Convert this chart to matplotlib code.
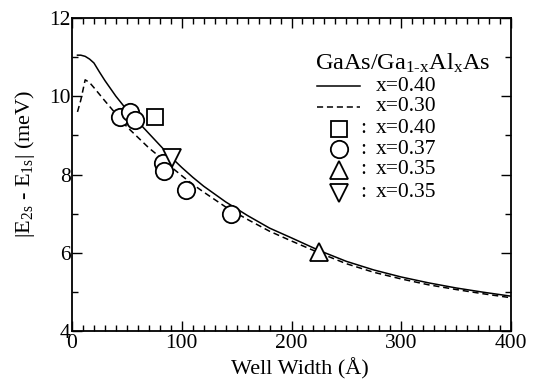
import matplotlib
matplotlib.use('Agg')
from matplotlib import pyplot as plt
from matplotlib.ticker import MultipleLocator

plt.rcParams['font.family'] = ['Liberation Serif', 'DejaVu Serif']
plt.rcParams['mathtext.fontset'] = 'custom'
plt.rcParams['mathtext.rm'] = 'Liberation Serif'
plt.rcParams['mathtext.it'] = 'Liberation Serif:italic'

# theory curves
solid_x = [5, 8, 12, 16, 20, 25, 30, 35, 40, 50, 60, 70, 80, 90, 100, 110, 120, 140, 160,
           180, 200, 225, 250, 275, 300, 325, 350, 375, 400]
solid_y = [11.05, 11.05, 11.02, 10.95, 10.85, 10.62, 10.4, 10.2, 10.0, 9.65, 9.35, 9.05, 8.75,
           8.45, 8.18, 7.93, 7.7, 7.3, 6.95, 6.63, 6.38, 6.06, 5.78, 5.56, 5.38, 5.23, 5.1,
           4.99, 4.89]
dash_x = [5, 8, 12, 16, 20, 30, 40, 50, 60, 70, 80, 90, 100, 110, 120, 140, 160, 180, 200,
          225, 250, 275, 300, 325, 350, 375, 400]
dash_y = [9.6, 9.9, 10.42, 10.35, 10.22, 9.88, 9.55, 9.22, 8.95, 8.68, 8.45, 8.2, 7.97, 7.75,
          7.55, 7.17, 6.85, 6.55, 6.3, 6.0, 5.72, 5.5, 5.33, 5.18, 5.06, 4.95, 4.85]

# experiments
sq_x, sq_y = [76], [9.46]
circ_x = [44, 53, 57, 82.5, 83.5, 104, 144.5]
circ_y = [9.47, 9.6, 9.4, 8.3, 8.08, 7.6, 7.0]
up_x, up_y = [225.5], [6.03]
down_x, down_y = [91.5], [8.42]

legend_title = 'GaAs/Ga$_{\\mathrm{1}\\text{-}\\mathrm{x}}$Al$_{\\mathrm{x}}$As'
line_labels = ['x=0.40', 'x=0.30']
marker_labels = ['x=0.40', 'x=0.37', 'x=0.35', 'x=0.35']

fig = plt.figure(figsize=(5.42, 3.83), dpi=100)
ax = fig.add_axes([72 / 542, 1 - 331 / 383, 439 / 542, 313 / 383])

ax.plot(solid_x, solid_y, color='black', lw=1.1)
ax.plot(dash_x, dash_y, color='black', lw=1.1, dashes=(4, 2.5))

mk = dict(linestyle='none', markerfacecolor='white', markeredgecolor='black',
          markeredgewidth=1.3, zorder=3)
ax.plot(sq_x, sq_y, marker='s', markersize=11, **mk)
ax.plot(circ_x, circ_y, marker='o', markersize=12.5, **mk)
ax.plot(up_x, up_y, marker='^', markersize=13, **mk)
ax.plot(down_x, down_y, marker='v', markersize=13, **mk)

ax.set_xlim(0, 400)
ax.set_ylim(4, 12)
ax.xaxis.set_major_locator(MultipleLocator(100))
ax.xaxis.set_minor_locator(MultipleLocator(10))
ax.yaxis.set_major_locator(MultipleLocator(2))
ax.yaxis.set_minor_locator(MultipleLocator(1))
ax.tick_params(which='both', direction='in', top=True, right=True, labelsize=15.5, width=1.0)
ax.tick_params(which='major', length=7)
ax.tick_params(which='minor', length=4)
ax.tick_params(axis='x', pad=2)
ax.tick_params(axis='y', pad=1)
for s in ax.spines.values():
    s.set_linewidth(1.3)

ax.set_xlabel('Well Width (Å)', fontsize=16)
ax.set_ylabel('|E$_{\\mathrm{2s}}$ - E$_{\\mathrm{1s}}$| (meV)', fontsize=16)
ax.xaxis.set_label_coords(0.52, -0.085)
ax.yaxis.set_label_coords(-0.08, 0.535)

# legend drawn by hand in axes coords
tr = ax.transAxes
ax.text(0.752, 0.856, legend_title, transform=tr, fontsize=17.5, ha='center', va='center')
rows = [0.7815, 0.7166, 0.6454, 0.5805, 0.5144, 0.4412]
ax.plot([0.557, 0.657], [rows[0]] * 2, transform=tr, color='black', lw=1.1)
ax.plot([0.557, 0.657], [rows[1]] * 2, transform=tr, color='black', lw=1.1, dashes=(4, 2.5))
for r, lab in zip(rows[:2], line_labels):
    ax.text(0.6925, r, lab, transform=tr, fontsize=15.5, va='center')
sizes = [11, 12.5, 13, 13]
for r, m, ms, lab in zip(rows[2:], ['s', 'o', '^', 'v'], sizes, marker_labels):
    ax.plot([0.608], [r], transform=tr, marker=m, markersize=ms, clip_on=False, **mk)
    ax.text(0.664, r, ':', transform=tr, fontsize=15.5, va='center', ha='center')
    ax.text(0.6925, r, lab, transform=tr, fontsize=15.5, va='center')

fig.savefig('out.png', dpi=100)
